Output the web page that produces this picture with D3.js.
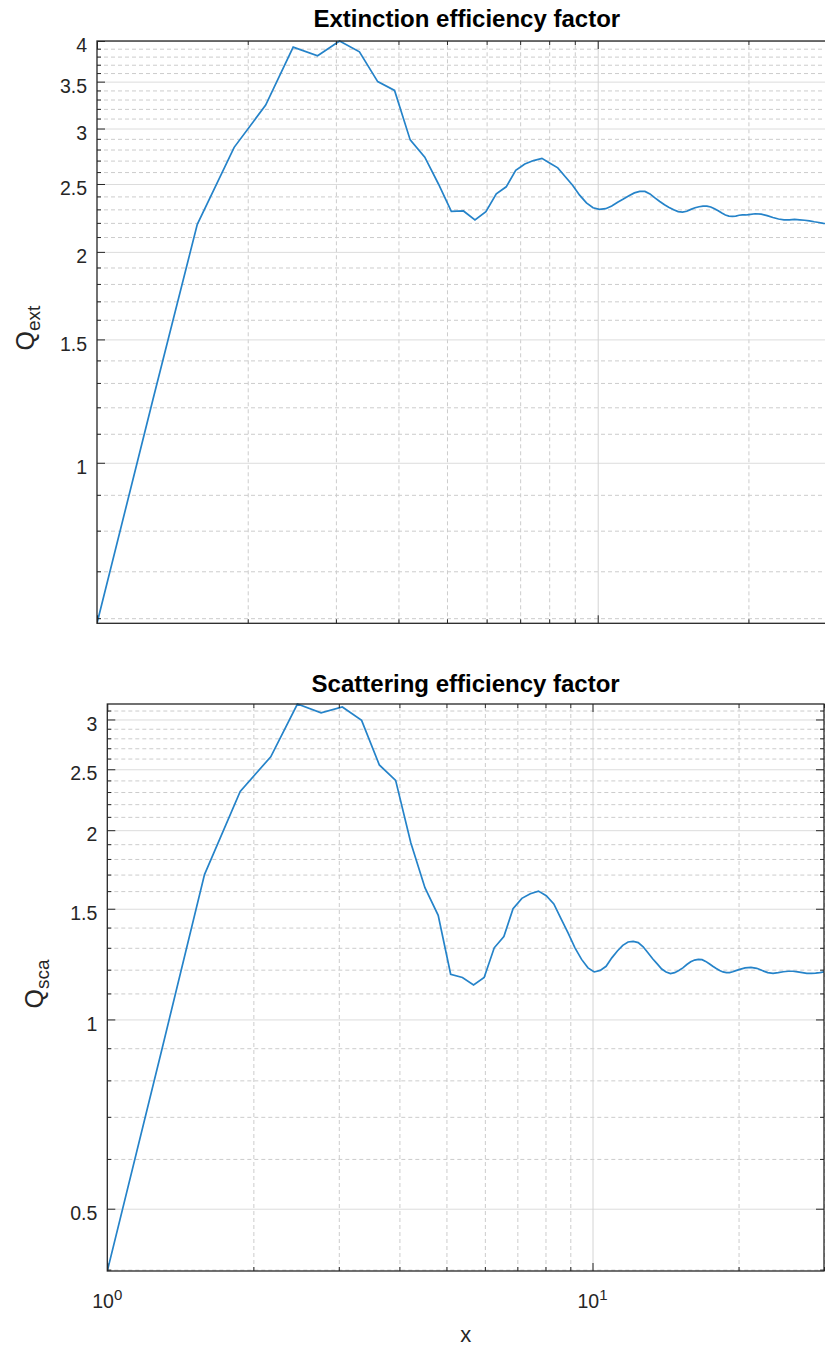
<!DOCTYPE html>
<html>
<head>
<meta charset="utf-8">
<script src="https://cdn.jsdelivr.net/npm/d3@7"></script>
<style>
  body { margin: 0; background: #fff; }
  text { font-family: "Liberation Sans", Arial, Helvetica, sans-serif; }
</style>
</head>
<body>
<div id="chart"></div>
<script>
// size parameter x (sampled points)
var xValues = [1, 1.293, 1.586, 1.879, 2.172, 2.465, 2.758, 3.051, 3.343, 3.636,
  3.929, 4.222, 4.515, 4.808, 5.101, 5.394, 5.687, 5.98, 6.273, 6.566,
  6.859, 7.152, 7.444, 7.737, 8.03, 8.323, 8.616, 8.909, 9.202, 9.495,
  9.788, 10.081, 10.374, 10.667, 10.96, 11.253, 11.545, 11.838, 12.131, 12.424,
  12.717, 13.01, 13.303, 13.596, 13.889, 14.182, 14.475, 14.768, 15.061, 15.354,
  15.646, 15.939, 16.232, 16.525, 16.818, 17.111, 17.404, 17.697, 17.99, 18.283,
  18.576, 18.869, 19.162, 19.455, 19.747, 20.04, 20.626, 21.212, 21.798, 22.384,
  22.97, 23.556, 24.141, 24.727, 25.313, 25.899, 26.485, 27.071, 27.657, 28.242,
  28.828, 29.414, 30];

// extinction efficiency
var qExt = [0.59, 1.23, 2.19, 2.82, 3.24, 3.92, 3.81, 4.0, 3.86, 3.5,
  3.4, 2.89, 2.73, 2.5, 2.285, 2.288, 2.222, 2.283, 2.42, 2.477,
  2.615, 2.67, 2.7, 2.72, 2.676, 2.636, 2.56, 2.49, 2.41, 2.35,
  2.312, 2.3, 2.305, 2.325, 2.355, 2.38, 2.406, 2.428, 2.44, 2.44,
  2.42, 2.388, 2.36, 2.335, 2.315, 2.297, 2.283, 2.28, 2.286, 2.3,
  2.312, 2.32, 2.325, 2.325, 2.318, 2.305, 2.289, 2.272, 2.258, 2.25,
  2.247, 2.25, 2.256, 2.258, 2.258, 2.261, 2.267, 2.264, 2.253, 2.239,
  2.228, 2.222, 2.222, 2.225, 2.222, 2.219, 2.214, 2.208, 2.203, 2.197,
  2.193, 2.19, 2.187];

// scattering efficiency
var qSca = [0.398, 0.89, 1.7, 2.305, 2.617, 3.175, 3.074, 3.14, 2.99, 2.54,
  2.4, 1.91, 1.62, 1.464, 1.18, 1.166, 1.135, 1.166, 1.3, 1.355,
  1.5, 1.558, 1.585, 1.6, 1.573, 1.527, 1.445, 1.372, 1.3, 1.246,
  1.208, 1.19, 1.197, 1.215, 1.253, 1.285, 1.312, 1.328, 1.331, 1.325,
  1.305, 1.277, 1.249, 1.226, 1.203, 1.19, 1.183, 1.187, 1.196, 1.208,
  1.223, 1.235, 1.243, 1.246, 1.245, 1.237, 1.226, 1.215, 1.205, 1.196,
  1.19, 1.187, 1.187, 1.191, 1.196, 1.2, 1.208, 1.21, 1.206, 1.196,
  1.187, 1.184, 1.187, 1.191, 1.193, 1.193, 1.19, 1.187, 1.184, 1.184,
  1.185, 1.187, 1.19];

var xMajor = [1, 10];
var xExponents = ["0", "1"];
var xMinor = [2, 3, 4, 5, 6, 7, 8, 9, 20, 30];
var extTicks = [1, 1.5, 2, 2.5, 3, 3.5, 4];
var scaTicks = [0.5, 1, 1.5, 2, 2.5, 3];

var svg = d3.select("#chart")
  .append("svg")
    .attr("width", 825)
    .attr("height", 1348);

var axisColor = "#262626";

function panel(p) {
  var w = p.right - p.left;
  var x = d3.scaleLog().domain([1, 30]).range([p.left, p.right]);
  var y = d3.scaleLog().domain(d3.extent(p.values)).range([p.bottom, p.top]);
  var dom = y.domain();

  var yMinor = d3.range(1, 41).map(function(i) { return i / 10 })
    .filter(function(v) { return v >= dom[0] - 1e-9 && v <= dom[1] + 1e-9 && p.yTicks.indexOf(v) < 0 });

  var g = svg.append("g");

  // minor grid
  g.append("g")
    .attr("transform", "translate(" + p.left + ",0)")
    .call(d3.axisLeft(y).tickValues(yMinor).tickSize(-w).tickFormat(""))
    .call(function(s) { s.select(".domain").remove() })
    .selectAll("line")
      .attr("stroke", "#cccccc")
      .attr("stroke-dasharray", "4,3");
  g.append("g")
    .attr("transform", "translate(0," + p.bottom + ")")
    .call(d3.axisBottom(x).tickValues(xMinor).tickSize(-(p.bottom - p.top)).tickFormat(""))
    .call(function(s) { s.select(".domain").remove() })
    .selectAll("line")
      .attr("stroke", "#cccccc")
      .attr("stroke-dasharray", "4,3");

  // major grid
  g.append("g")
    .attr("transform", "translate(" + p.left + ",0)")
    .call(d3.axisLeft(y).tickValues(p.yTicks).tickSize(-w).tickFormat(""))
    .call(function(s) { s.select(".domain").remove() })
    .selectAll("line")
      .attr("stroke", "#dcdcdc");
  g.append("g")
    .attr("transform", "translate(0," + p.bottom + ")")
    .call(d3.axisBottom(x).tickValues([10]).tickSize(-(p.bottom - p.top)).tickFormat(""))
    .call(function(s) { s.select(".domain").remove() })
    .selectAll("line")
      .attr("stroke", "#d4d4d4");

  // curve
  var clipId = "clip" + p.name;
  svg.append("clipPath").attr("id", clipId)
    .append("rect")
      .attr("x", p.left).attr("y", p.top - 1)
      .attr("width", w).attr("height", p.bottom - p.top + 2);

  g.append("path")
    .datum(p.values)
    .attr("clip-path", "url(#" + clipId + ")")
    .attr("d", d3.line()
      .x(function(d, i) { return x(xValues[i]) })
      .y(function(d) { return y(d) })
    )
    .attr("stroke", "#2583c9")
    .style("stroke-width", 1.7)
    .style("fill", "none");

  // ticks, all inward
  function ticks(axis, tr, vals, size) {
    g.append("g")
      .attr("transform", tr)
      .call(axis.tickValues(vals).tickSize(-size).tickFormat(""))
      .call(function(s) { s.select(".domain").remove() })
      .selectAll("line").attr("stroke", axisColor);
  }
  ticks(d3.axisLeft(y), "translate(" + p.left + ",0)", yMinor, 4);
  ticks(d3.axisLeft(y), "translate(" + p.left + ",0)", p.yTicks, 8);
  ticks(d3.axisRight(y), "translate(" + p.right + ",0)", yMinor, 4);
  ticks(d3.axisRight(y), "translate(" + p.right + ",0)", p.yTicks, 8);
  ticks(d3.axisBottom(x), "translate(0," + p.bottom + ")", xMinor, 4);
  ticks(d3.axisBottom(x), "translate(0," + p.bottom + ")", xMajor, 8);
  ticks(d3.axisTop(x), "translate(0," + p.top + ")", xMinor, 4);
  ticks(d3.axisTop(x), "translate(0," + p.top + ")", xMajor, 8);

  // box
  g.append("rect")
    .attr("x", p.left).attr("y", p.top)
    .attr("width", w).attr("height", p.bottom - p.top)
    .attr("fill", "none")
    .attr("stroke", axisColor)
    .attr("stroke-width", 1.3);

  // y tick labels
  var yl = g.append("g")
    .attr("transform", "translate(" + p.left + ",0)")
    .call(d3.axisLeft(y).tickValues(p.yTicks).tickSize(0).tickPadding(10)
      .tickFormat(function(d) { return String(d) }));
  yl.select(".domain").remove();
  yl.selectAll("text")
    .attr("dy", "0.55em")
    .attr("fill", axisColor)
    .style("font-size", "19.5px")
    .style("font-family", "'Liberation Sans', Arial, sans-serif");

  // x tick labels
  if (p.xLabels) {
    xMajor.forEach(function(v, i) {
      var t = g.append("text")
        .attr("x", x(v))
        .attr("y", p.bottom + 37)
        .attr("text-anchor", "middle")
        .attr("fill", axisColor)
        .style("font-size", "19.5px");
      t.append("tspan").text("10");
      t.append("tspan").attr("dy", -8).style("font-size", "15px").text(xExponents[i]);
    });
    g.append("text")
      .attr("x", (p.left + p.right) / 2)
      .attr("y", p.bottom + 71)
      .attr("text-anchor", "middle")
      .attr("fill", axisColor)
      .style("font-size", "22px")
      .text("x");
  }

  // title
  g.append("text")
    .attr("x", (p.left + p.right) / 2)
    .attr("y", p.titleY)
    .attr("text-anchor", "middle")
    .attr("fill", "#000")
    .style("font-size", "24px")
    .style("font-weight", "bold")
    .text(p.title);

  // y label Q with subscript
  var yt = g.append("text")
    .attr("transform", "translate(" + p.ylabelX + "," + p.ylabelY + ") rotate(-90)")
    .attr("text-anchor", "middle")
    .attr("fill", axisColor)
    .style("font-size", "25px");
  yt.append("tspan").text("Q");
  yt.append("tspan").attr("dy", 6).style("font-size", "19px").text(p.sub);
}

panel({
  name: "ext", values: qExt, yTicks: extTicks,
  left: 97, right: 836.6, top: 41, bottom: 623.3,
  title: "Extinction efficiency factor", titleY: 27,
  sub: "ext", ylabelX: 34, ylabelY: 328, xLabels: false
});

panel({
  name: "sca", values: qSca, yTicks: scaTicks,
  left: 107.3, right: 824, top: 704, bottom: 1271,
  title: "Scattering efficiency factor", titleY: 692,
  sub: "sca", ylabelX: 43, ylabelY: 984, xLabels: true
});
</script>
</body>
</html>
